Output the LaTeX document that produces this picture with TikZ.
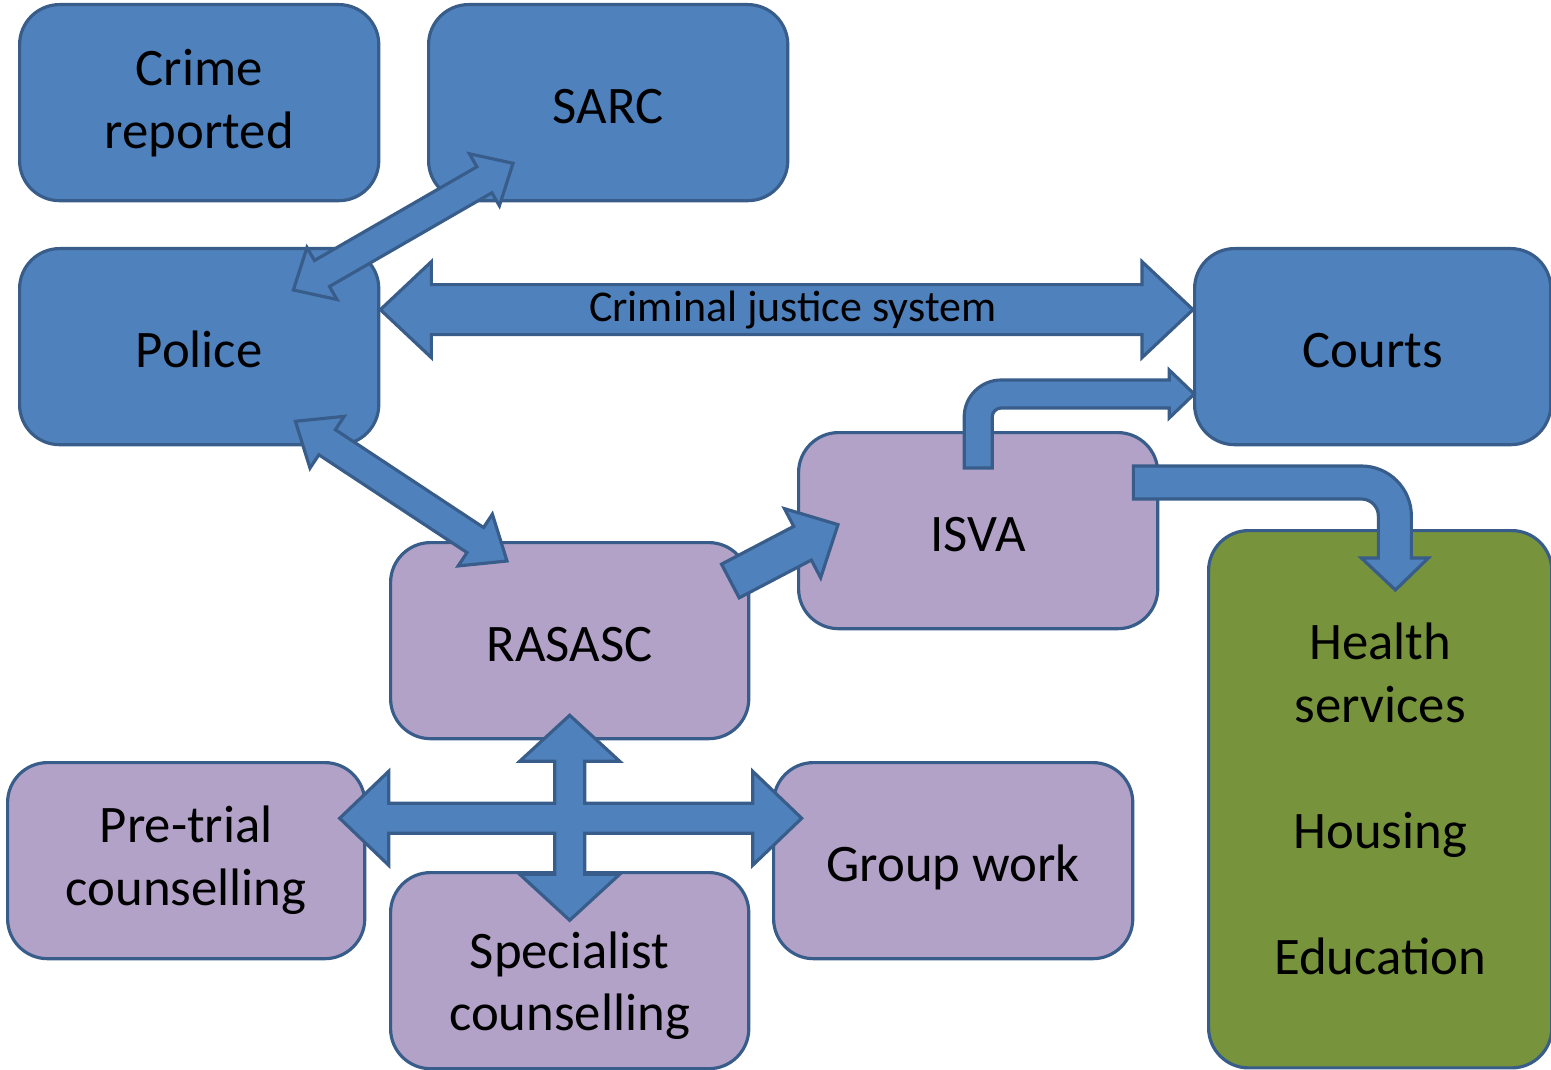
\documentclass[tikz,border=0pt]{standalone}
\usepackage{fontspec}
\setmainfont{Carlito}
\usetikzlibrary{calc}
\definecolor{rsblue}{HTML}{4F81BD}
\definecolor{rsline}{HTML}{385D8A}
\definecolor{rslilac}{HTML}{B2A2C7}
\definecolor{rsgreen}{HTML}{77933C}

% block arrows: from, to, half shaft, half head, head length
\newcommand{\twoway}[5]{%
  \draw[blk] (#1) -- ($(#1)!#5!(#2)!#4!90:(#2)$) -- ($(#1)!#5!(#2)!#3!90:(#2)$)
    -- ($(#2)!#5!(#1)!#3!-90:(#1)$) -- ($(#2)!#5!(#1)!#4!-90:(#1)$) -- (#2)
    -- ($(#2)!#5!(#1)!#4!90:(#1)$) -- ($(#2)!#5!(#1)!#3!90:(#1)$)
    -- ($(#1)!#5!(#2)!#3!-90:(#2)$) -- ($(#1)!#5!(#2)!#4!-90:(#2)$) -- cycle;}
\newcommand{\oneway}[5]{%
  \draw[blk] ($(#1)!#3!90:(#2)$) -- ($(#2)!#5!(#1)!#3!-90:(#1)$)
    -- ($(#2)!#5!(#1)!#4!-90:(#1)$) -- (#2) -- ($(#2)!#5!(#1)!#4!90:(#1)$)
    -- ($(#2)!#5!(#1)!#3!90:(#1)$) -- ($(#1)!#3!-90:(#2)$) -- cycle;}

\begin{document}
\begin{tikzpicture}[
  x=0.01cm, y=-0.01cm,
  tile/.style={draw=rsline, line width=0.9pt, rounded corners=0.4cm,
               anchor=north west, minimum width=3.59cm, minimum height=1.96cm,
               inner sep=2pt, align=center, font=\fontsize{15}{17.9}\selectfont},
  blue tile/.style={tile, fill=rsblue},
  lilac tile/.style={tile, fill=rslilac},
  green tile/.style={tile, fill=rsgreen},
  one line/.style={text height=12pt, text depth=0pt},
  blk/.style={draw=rsline, line width=0.9pt, fill=rsblue, line join=miter},
]
\useasboundingbox (0,0) rectangle (1551,1070);

% ---------------- boxes ---------------------------------------------
\node[blue tile] (crime) at (18,3) {Crime\\reported};
\node[blue tile, one line] (sarc) at (427,3) {SARC};
\node[blue tile, one line] (police) at (18,247) {Police};
\node[blue tile, one line, minimum width=3.56cm] (courts) at (1193,247) {Courts};
\node[lilac tile, one line] (isva) at (797,431) {ISVA};
\node[lilac tile, one line, minimum width=3.58cm] (rasasc) at (389,541) {RASASC};
\node[lilac tile, minimum width=3.57cm] (pretrial) at (6,761) {Pre-trial\\counselling};
\node[lilac tile, minimum width=3.58cm] (special) at (389,871)
  {\rule{0pt}{19pt}Specialist\\counselling};
\node[lilac tile, one line] (group) at (772,761) {Group work};
\node[green tile, minimum width=3.43cm, minimum height=5.37cm] (services) at (1207,529)
  {Health\\services\\[\baselineskip]Housing\\[\baselineskip]Education};

% ---------------- arrow ends ----------------------------------------
\coordinate (ps) at ($(police.north east)+(-87,43)$);
\coordinate (sp) at ($(sarc.south west)+(86,-39)$);
\coordinate (pr) at ($(police.south east)+(-85,-25)$);
\coordinate (rp) at ($(rasasc.north west)+(118,20)$);
\coordinate (pc) at ($(police.east)+(0,-37)$);
\coordinate (cp) at ($(courts.west)+(0,-37)$);
\coordinate (ri) at ($(rasasc.north east)+(-20,40)$);
\coordinate (ir) at ($(isva.west)+(41,-6)$);
\coordinate (hub) at ($(rasasc.south)+(0,78)$);
\coordinate (ic) at ($(isva.north)+(0,37)$);
\coordinate (ih) at ($(isva.north east)+(-26,35)$);

% ---------------- arrows --------------------------------------------
\twoway{ps}{sp}{0.15cm}{0.30cm}{0.33cm}
\twoway{pr}{rp}{0.15cm}{0.31cm}{0.38cm}
\twoway{pc}{cp}{0.25cm}{0.48cm}{0.51cm}
\oneway{ri}{ir}{0.19cm}{0.39cm}{0.40cm}

\node[font=\fontsize{12.5}{15}\selectfont] (cjs) at ($(pc)!0.5!(cp)+(6,0)$)
  {Criminal justice system};

% four-way arrow round RASASC
\draw[blk, shift={(hub)}] (0,-103) -- (50,-57) -- (15,-57) -- (15,-15) -- (183,-15)
  -- (183,-47) -- (232,0) -- (183,47) -- (183,15) -- (15,15) -- (15,56) -- (50,56)
  -- (0,102) -- (-50,56) -- (-15,56) -- (-15,15) -- (-181,15) -- (-181,47)
  -- (-230,0) -- (-181,-47) -- (-181,-15) -- (-15,-15) -- (-15,-57) -- (-50,-57)
  -- cycle;

% bent arrows out of ISVA
\draw[blk, shift={(ic)}] (-14,0) -- (-14,-51) arc[start angle=180, end angle=270, radius=37]
  -- (191,-88) -- (191,-98) -- (216,-74) -- (191,-50) -- (191,-60) -- (23,-60)
  arc[start angle=270, end angle=180, radius=9] -- (14,0) -- cycle;
\draw[blk, shift={(ih)}] (0,0) -- (228,0) arc[start angle=270, end angle=360, radius=50]
  -- (278,92) -- (295,92) -- (262,124) -- (228,92) -- (245,92) -- (245,50)
  arc[start angle=0, end angle=-90, radius=17] -- (0,33) -- cycle;

\end{tikzpicture}
\end{document}
